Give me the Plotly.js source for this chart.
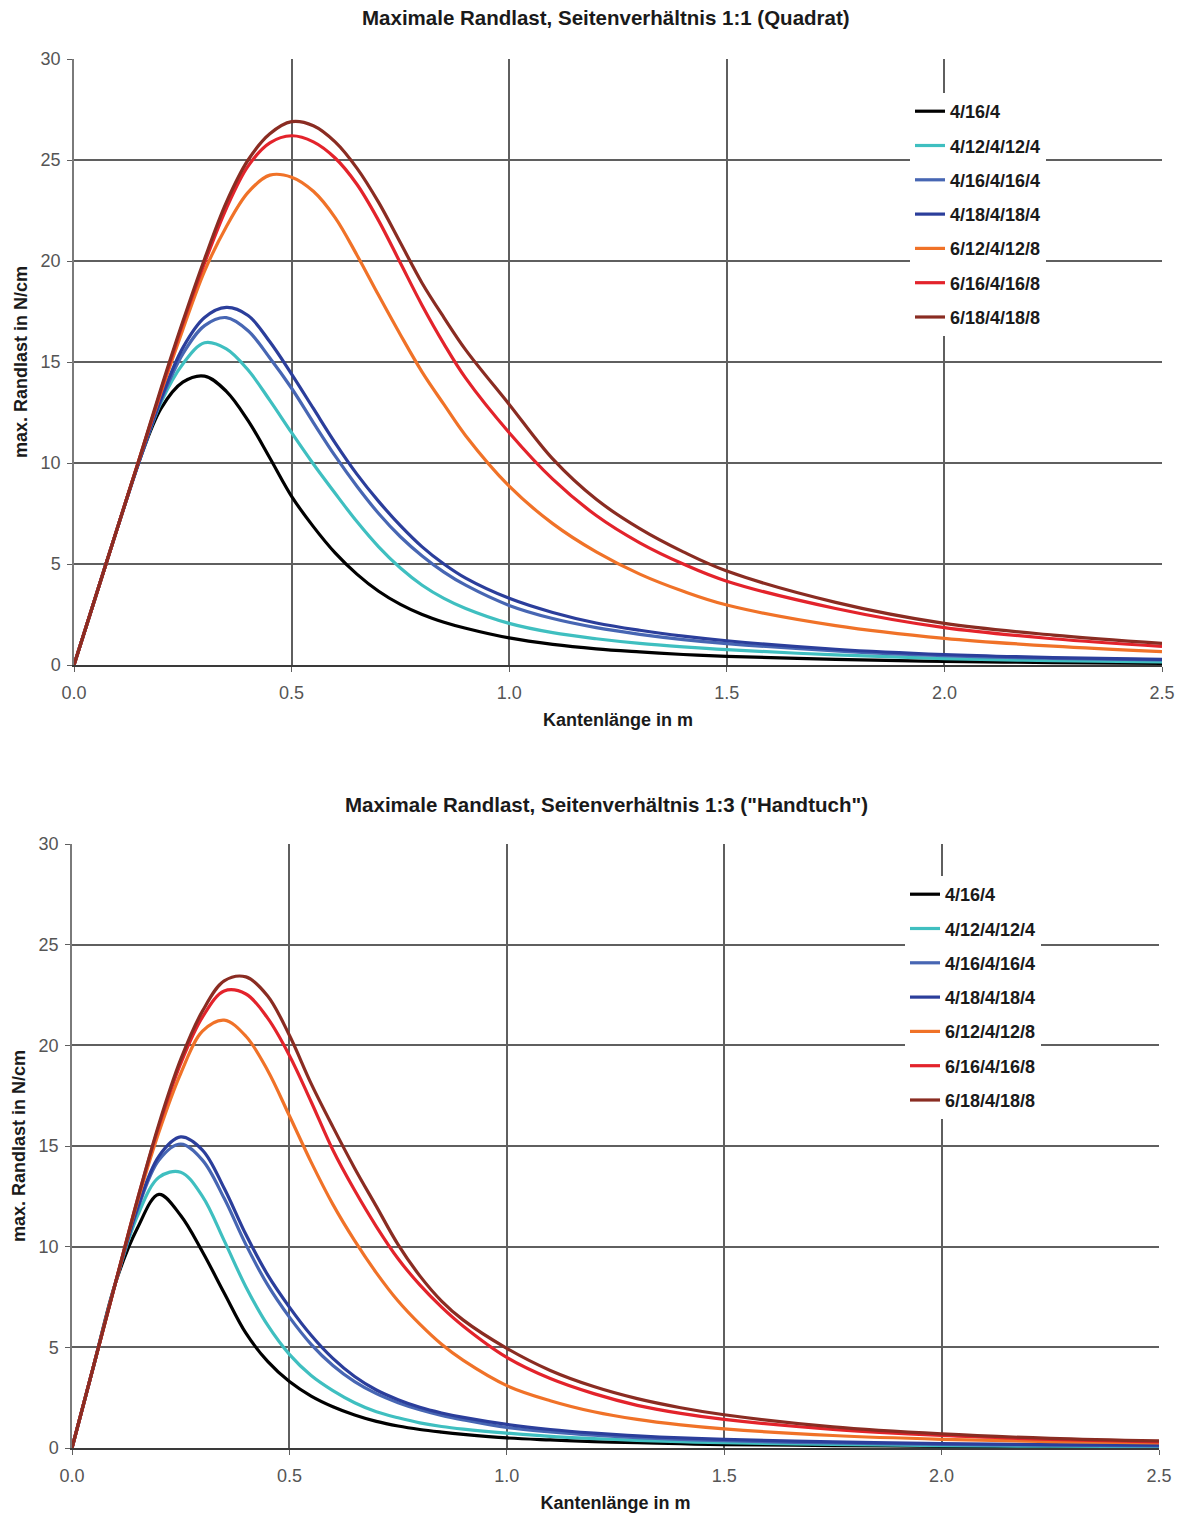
<!DOCTYPE html>
<html>
<head>
<meta charset="utf-8">
<script src="https://cdn.plot.ly/plotly-3.0.1.min.js"></script>
<style>html,body{margin:0;padding:0;background:#fff;}#chart{width:1184px;height:1519px;}</style>
</head>
<body>
<div id="chart"></div>
<script>
// ---- Data ----
const seriesNames = ["4/16/4", "4/12/4/12/4", "4/16/4/16/4", "4/18/4/18/4", "6/12/4/12/8", "6/16/4/16/8", "6/18/4/18/8"];
const xTicks = [0, 0.5, 1.0, 1.5, 2.0, 2.5];

// Chart 1: Seitenverhältnis 1:1 (Quadrat)
const xTop = [0,0.05,0.1,0.15,0.2,0.25,0.3,0.35,0.4,0.45,0.5,0.55,0.6,0.65,0.7,0.75,0.8,0.85,0.9,1.0,1.1,1.2,1.3,1.4,1.5,1.75,2.0,2.25,2.5];
const top_4_16_4       = [0,3.4,6.8,10.1,12.7,14.0,14.3,13.55,12.1,10.25,8.35,6.85,5.55,4.5,3.65,3.0,2.5,2.12,1.82,1.34,1.02,0.8,0.65,0.52,0.43,0.28,0.18,0.12,0.08];
const top_4_12_4_12_4  = [0,3.4,6.8,10.1,13.0,14.9,15.95,15.65,14.6,13.1,11.5,9.95,8.5,7.1,5.85,4.8,3.95,3.3,2.8,2.06,1.6,1.3,1.07,0.9,0.76,0.5,0.32,0.21,0.15];
const top_4_16_4_16_4  = [0,3.4,6.8,10.1,13.1,15.4,16.8,17.2,16.55,15.2,13.7,12.0,10.35,8.85,7.5,6.35,5.4,4.6,3.95,2.95,2.3,1.85,1.52,1.26,1.06,0.7,0.46,0.33,0.25];
const top_4_18_4_18_4  = [0,3.4,6.8,10.1,13.2,15.7,17.2,17.7,17.3,16.0,14.4,12.7,11.0,9.45,8.1,6.9,5.85,5.0,4.3,3.3,2.6,2.08,1.72,1.43,1.2,0.78,0.52,0.37,0.28];
const top_6_12_4_12_8  = [0,3.4,6.8,10.2,13.5,16.6,19.5,21.7,23.4,24.25,24.15,23.45,22.15,20.3,18.3,16.35,14.5,12.9,11.35,8.85,7.0,5.6,4.5,3.65,2.97,1.95,1.32,0.93,0.66];
const top_6_16_4_16_8  = [0,3.4,6.8,10.2,13.6,16.9,19.9,22.6,24.7,25.85,26.2,25.9,25.1,23.8,22.0,19.9,17.8,15.9,14.2,11.5,9.2,7.4,6.05,5.0,4.15,2.8,1.85,1.3,0.92];
const top_6_18_4_18_8  = [0,3.4,6.8,10.2,13.7,17.0,20.1,22.9,25.0,26.3,26.9,26.7,25.9,24.6,22.9,20.9,18.9,17.2,15.6,12.9,10.2,8.2,6.75,5.6,4.65,3.1,2.06,1.48,1.07];

// Chart 2: Seitenverhältnis 1:3 ("Handtuch")
const xBot = [0,0.05,0.1,0.15,0.2,0.25,0.3,0.35,0.4,0.45,0.5,0.55,0.6,0.65,0.7,0.75,0.8,0.85,0.9,1.0,1.1,1.2,1.3,1.4,1.5,1.75,2.0,2.25,2.5];
const bot_4_16_4       = [0,4.1,8.2,10.9,12.6,11.55,9.75,7.7,5.7,4.3,3.3,2.58,2.05,1.64,1.32,1.09,0.92,0.79,0.68,0.5,0.4,0.32,0.26,0.21,0.17,0.12,0.08,0.06,0.05];
const bot_4_12_4_12_4  = [0,4.1,8.2,11.5,13.45,13.7,12.5,10.3,8.0,6.1,4.65,3.6,2.85,2.25,1.8,1.5,1.25,1.07,0.94,0.74,0.58,0.47,0.38,0.31,0.26,0.18,0.12,0.09,0.07];
const bot_4_16_4_16_4  = [0,4.1,8.2,11.8,14.3,15.1,14.3,12.4,10.1,8.1,6.5,5.15,4.1,3.3,2.7,2.25,1.9,1.62,1.4,1.02,0.8,0.64,0.52,0.43,0.36,0.25,0.18,0.14,0.11];
const bot_4_18_4_18_4  = [0,4.1,8.2,11.9,14.5,15.45,14.8,12.9,10.6,8.6,7.0,5.6,4.45,3.55,2.88,2.4,2.02,1.74,1.52,1.17,0.92,0.74,0.6,0.5,0.43,0.3,0.22,0.17,0.14];
const bot_6_12_4_12_8  = [0,4.1,8.2,12.2,15.7,18.6,20.7,21.25,20.45,18.75,16.5,14.2,12.1,10.3,8.7,7.3,6.15,5.15,4.35,3.1,2.35,1.8,1.42,1.15,0.95,0.62,0.43,0.32,0.25];
const bot_6_16_4_16_8  = [0,4.1,8.2,12.3,16.0,19.1,21.4,22.7,22.55,21.35,19.5,17.2,14.8,12.8,11.0,9.4,8.1,7.0,6.05,4.5,3.45,2.7,2.12,1.72,1.42,0.92,0.62,0.43,0.3];
const bot_6_18_4_18_8  = [0,4.1,8.2,12.3,16.1,19.3,21.7,23.2,23.4,22.45,20.5,18.1,15.95,13.9,12.0,10.1,8.55,7.3,6.35,4.95,3.85,3.05,2.45,2.0,1.65,1.05,0.7,0.48,0.35];

// ---- Styling ----
const colors = ["#000000", "#3fbfc0", "#4766b3", "#2b3e9b", "#f07228", "#e3232b", "#8a2c22"];
const FONT = "Liberation Sans, Arial, sans-serif";
const GRID = "#5f5f5f";

const topSeries = [top_4_16_4, top_4_12_4_12_4, top_4_16_4_16_4, top_4_18_4_18_4, top_6_12_4_12_8, top_6_16_4_16_8, top_6_18_4_18_8];
const botSeries = [bot_4_16_4, bot_4_12_4_12_4, bot_4_16_4_16_4, bot_4_18_4_18_4, bot_6_12_4_12_8, bot_6_16_4_16_8, bot_6_18_4_18_8];

const traces = [];
topSeries.forEach((ys, i) => {
  traces.push({
    x: xTop, y: ys, name: seriesNames[i], type: "scatter", mode: "lines",
    line: {color: colors[i], width: 3.2, shape: "spline", smoothing: 1.0},
    xaxis: "x", yaxis: "y", legend: "legend", legendgroup: "t" + i, hoverinfo: "x+y+name"
  });
});
botSeries.forEach((ys, i) => {
  traces.push({
    x: xBot, y: ys, name: seriesNames[i], type: "scatter", mode: "lines",
    line: {color: colors[i], width: 3.2, shape: "spline", smoothing: 1.0},
    xaxis: "x2", yaxis: "y2", legend: "legend2", legendgroup: "b" + i, hoverinfo: "x+y+name"
  });
});

function xAxis(domain, anchor) {
  return {
    domain: domain, anchor: anchor, range: [0, 2.5], tickvals: xTicks, tickformat: ".1f",
    showgrid: true, gridcolor: GRID, gridwidth: 1.5, zeroline: false,
    showline: true, linecolor: "#3a3a3a", linewidth: 1.5,
    ticks: "outside", ticklen: 5, tickcolor: GRID, tickwidth: 1.2, ticklabelstandoff: 6,
    tickfont: {family: FONT, size: 18, color: "#555555"},
    title: {text: "Kantenlänge in m", font: {family: FONT, size: 18, color: "#1a1a1a", weight: "bold"}, standoff: 11},
    fixedrange: true
  };
}
function yAxis(domain, anchor) {
  return {
    domain: domain, anchor: anchor, range: [0, 30], dtick: 5,
    showgrid: true, gridcolor: GRID, gridwidth: 1.5, zeroline: false,
    showline: true, linecolor: "#7a7a7a", linewidth: 1.5,
    ticks: "outside", ticklen: 5, tickcolor: GRID, tickwidth: 1.2, ticklabelstandoff: 3,
    tickfont: {family: FONT, size: 18, color: "#555555"},
    title: {text: "max. Randlast in N/cm", font: {family: FONT, size: 18, color: "#1a1a1a", weight: "bold"}, standoff: 8},
    fixedrange: true
  };
}
function legendCfg(x, y) {
  return {
    x: x, y: y, xanchor: "left", yanchor: "top",
    bgcolor: "#ffffff", borderwidth: 0,
    font: {family: FONT, size: 18, color: "#1a1a1a", weight: "bold"},
    traceorder: "grouped", tracegroupgap: 7.9, itemclick: false, itemdoubleclick: false
  };
}

const layout = {
  width: 1184, height: 1519,
  margin: {l: 0, r: 0, t: 0, b: 0, autoexpand: false},
  paper_bgcolor: "#ffffff", plot_bgcolor: "#ffffff",
  showlegend: true,
  xaxis: xAxis([74/1184, 1162/1184], "y"),
  yaxis: yAxis([1 - 665/1519, 1 - 59/1519], "x"),
  xaxis2: xAxis([72/1184, 1159/1184], "y2"),
  yaxis2: yAxis([1 - 1448/1519, 1 - 844/1519], "x2"),
  legend: legendCfg(910/1184, 1 - 93/1519),
  legend2: legendCfg(905/1184, 1 - 876/1519),
  annotations: [
    {text: "Maximale Randlast, Seitenverhältnis 1:1 (Quadrat)", xref: "paper", yref: "paper",
     x: 606/1184, y: 1 - 18/1519, xanchor: "center", yanchor: "middle", showarrow: false,
     font: {family: FONT, size: 20.5, color: "#1a1a1a", weight: "bold"}},
    {text: "Maximale Randlast, Seitenverhältnis 1:3 (\"Handtuch\")", xref: "paper", yref: "paper",
     x: 606/1184, y: 1 - 804/1519, xanchor: "center", yanchor: "middle", showarrow: false,
     font: {family: FONT, size: 20.5, color: "#1a1a1a", weight: "bold"}}
  ]
};

Plotly.newPlot("chart", traces, layout, {displayModeBar: false});
</script>
</body>
</html>
